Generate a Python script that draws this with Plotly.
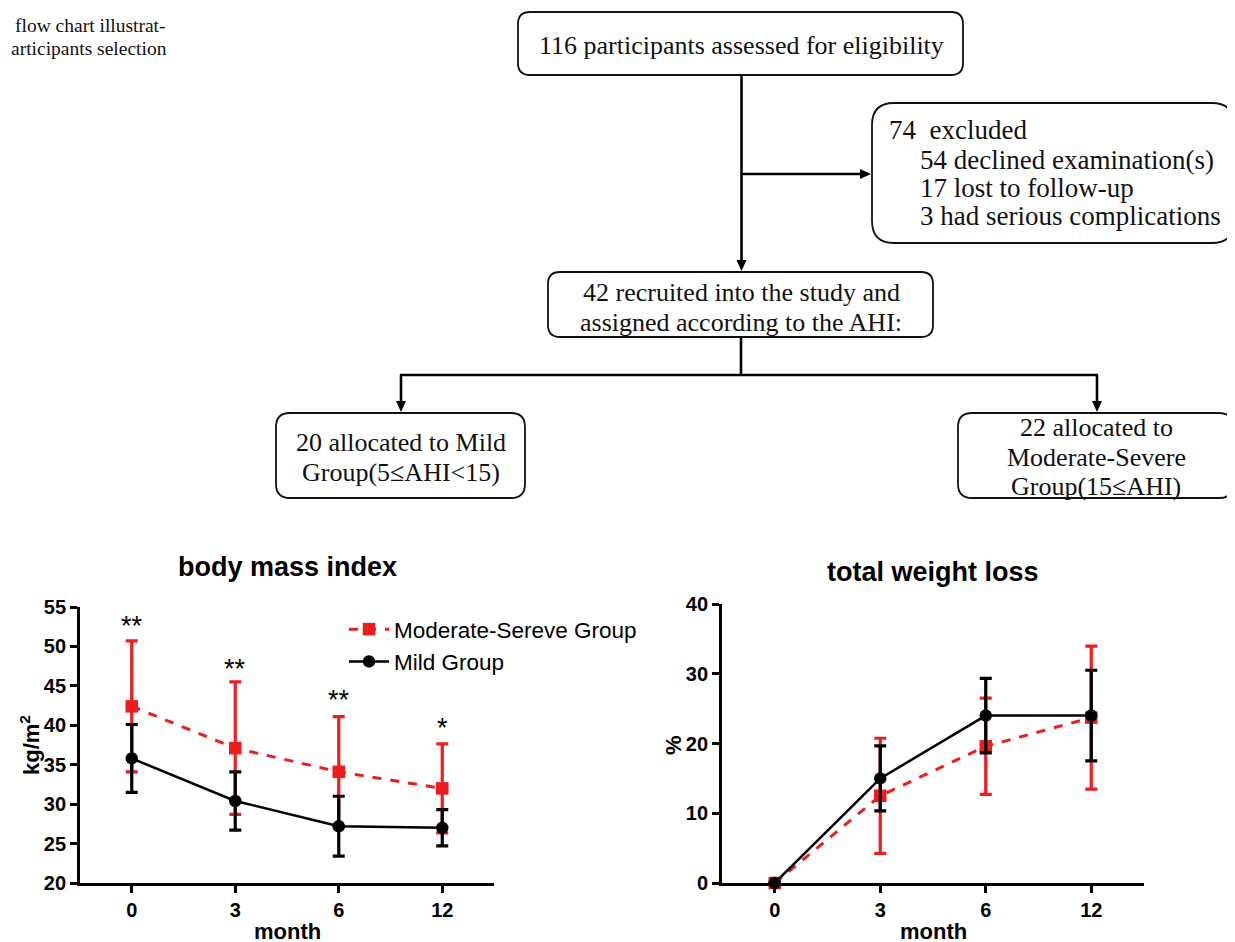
import plotly.graph_objects as go

# ---------------- data ----------------
months = ["0", "3", "6", "12"]

bmi_severe = [42.4, 37.1, 34.1, 32.0]
bmi_severe_sd = [8.3, 8.4, 7.0, 5.65]
bmi_mild = [35.8, 30.4, 27.2, 27.0]
bmi_mild_sd = [4.3, 3.7, 3.8, 2.3]

twl_severe = [0.0, 12.5, 19.6, 23.7]
twl_severe_sd = [0.0, 8.25, 6.9, 10.25]
twl_mild = [0.0, 15.0, 24.0, 24.0]
twl_mild_sd = [0.0, 4.65, 5.35, 6.5]

stars = ["**", "**", "**", "*"]
star_y = [52.6, 47.1, 43.2, 39.6]

bmi_ticks = [20, 25, 30, 35, 40, 45, 50, 55]
twl_ticks = [0, 10, 20, 30, 40]

W, H = 1235, 942
OX, OY = 8, 8          # page body margin compensation
RED = "#ee1c1c"
SANS = "Liberation Sans, Arial, sans-serif"
SERIF = "Liberation Serif, Times New Roman, serif"


def pxx(v):
    return (v - OX) / W


def pxy(v):
    return 1 - (v - OY) / H


fig = go.Figure()


def add_series(xa, ya, y, sd, name, color, symbol, dash, lw, show):
    fig.add_trace(go.Scatter(
        x=months, y=y, xaxis=xa, yaxis=ya, name=name, mode="lines+markers",
        line=dict(color=color, width=lw, dash=dash),
        marker=dict(symbol=symbol, size=12.5, color=color),
        error_y=dict(type="data", array=sd, visible=True, color=color,
                     thickness=3.2, width=6),
        cliponaxis=False, showlegend=show, legendgroup=name,
    ))


add_series("x", "y", bmi_severe, bmi_severe_sd, "Moderate-Sereve Group", RED,
           "square", "dash", 3, True)
add_series("x", "y", bmi_mild, bmi_mild_sd, "Mild Group", "black",
           "circle", "solid", 2.5, True)
add_series("x2", "y2", twl_severe, twl_severe_sd, "Moderate-Sereve Group", RED,
           "square", "dash", 3, False)
add_series("x2", "y2", twl_mild, twl_mild_sd, "Mild Group", "black",
           "circle", "solid", 2.5, False)

fig.add_trace(go.Scatter(x=[None], y=[None], xaxis="x3", yaxis="y3",
                         showlegend=False, hoverinfo="skip"))

axis_common = dict(showline=True, linewidth=2.8, linecolor="black",
                   ticks="outside", ticklen=7, tickwidth=2.8, tickcolor="black",
                   showgrid=False, zeroline=False, automargin=False,
                   tickfont=dict(family=SANS, size=20, color="black", weight="bold"))

fig.update_layout(
    width=W, height=H,
    margin=dict(l=0, r=0, t=0, b=0, pad=0, autoexpand=False),
    paper_bgcolor="white", plot_bgcolor="rgba(0,0,0,0)",
    xaxis=dict(domain=[pxx(80), pxx(494)], anchor="y", type="category",
               range=[-0.5, 3.5], **axis_common),
    yaxis=dict(domain=[pxy(883), pxy(607)], anchor="x", range=[20, 55],
               tickvals=bmi_ticks, **axis_common),
    xaxis2=dict(domain=[pxx(722), pxx(1144)], anchor="y2", type="category",
                range=[-0.5, 3.5], **axis_common),
    yaxis2=dict(domain=[pxy(883), pxy(604)], anchor="x2", range=[0, 40],
                tickvals=twl_ticks, **axis_common),
    xaxis3=dict(domain=[0, 1], anchor="y3", range=[OX, W + OX], visible=False,
                fixedrange=True, automargin=False),
    yaxis3=dict(domain=[0, 1], anchor="x3", range=[H + OY, OY], visible=False,
                fixedrange=True, automargin=False),
    legend=dict(x=pxx(344), y=pxy(608), xanchor="left", yanchor="top",
                bgcolor="rgba(0,0,0,0)", font=dict(family=SANS, size=22.5, color="black"),
                traceorder="grouped", tracegroupgap=0, itemwidth=40),
    showlegend=True,
)

ann = []


def ptxt(s, x, y, size, bold=True, angle=0):
    ann.append(dict(text=s, x=pxx(x), y=pxy(y), xref="paper", yref="paper",
                    xanchor="center", yanchor="middle", showarrow=False, textangle=angle,
                    font=dict(family=SANS, size=size, color="black",
                              weight="bold" if bold else "normal")))


ptxt("body mass index", 287, 567, 27)
ptxt("total weight loss", 933, 572, 27)
ptxt("month", 287, 931, 22)
ptxt("month", 933, 931, 22)
ptxt("kg/m<sup>2</sup>", 30, 745, 22, angle=-90)
ptxt("%", 673, 745, 22, angle=-90)

for i, (s, sy) in enumerate(zip(stars, star_y)):
    ann.append(dict(text=s, x=i, y=sy, xref="x", yref="y", showarrow=False,
                    xanchor="center", yanchor="middle",
                    font=dict(family=SANS, size=27, color="black")))

# ---------------- flowchart ----------------
shapes = []


def rbox(x0, y0, x1, y1, r):
    p = (f"M {x0+r},{y0} L {x1-r},{y0} Q {x1},{y0} {x1},{y0+r} "
         f"L {x1},{y1-r} Q {x1},{y1} {x1-r},{y1} L {x0+r},{y1} "
         f"Q {x0},{y1} {x0},{y1-r} L {x0},{y0+r} Q {x0},{y0} {x0+r},{y0} Z")
    shapes.append(dict(type="path", path=p, xref="x3", yref="y3",
                       line=dict(color="#111", width=1.8), fillcolor="rgba(0,0,0,0)"))


def seg(x0, y0, x1, y1):
    shapes.append(dict(type="line", x0=x0, y0=y0, x1=x1, y1=y1, xref="x3", yref="y3",
                       line=dict(color="black", width=2.6)))


def head_down(x, y):
    shapes.append(dict(type="path", path=f"M {x-5},{y-11} L {x+5},{y-11} L {x},{y} Z",
                       xref="x3", yref="y3", fillcolor="black", line=dict(width=0)))


def head_right(x, y):
    shapes.append(dict(type="path", path=f"M {x-11},{y-5} L {x-11},{y+5} L {x},{y} Z",
                       xref="x3", yref="y3", fillcolor="black", line=dict(width=0)))


def txt(s, x, y, anchor="center", size=26, shift=0):
    ann.append(dict(text=s, x=x, y=y, xref="x3", yref="y3", showarrow=False,
                    xanchor=anchor, yanchor="middle", xshift=shift,
                    font=dict(family=SERIF, size=size, color="#111")))


rbox(518, 12, 963, 75, 12)
rbox(872, 103, 1234, 243, 22)
rbox(548, 272, 933, 337, 12)
rbox(276, 413, 525, 498, 14)
rbox(958, 413, 1233, 498, 14)

seg(741.5, 75, 741.5, 262)
head_down(741.5, 271)
seg(741.5, 174, 862, 174)
head_right(871, 174)
seg(741, 337, 741, 375)
seg(400, 375, 1098, 375)
seg(401, 375, 401, 403)
head_down(401, 412)
seg(1097, 375, 1097, 403)
head_down(1097, 412)

txt("116 participants assessed for eligibility", 741, 45)
txt("74  excluded", 887, 130, "left", 27)
txt("54 declined examination(s)", 918, 160, "left", 27)
txt("17 lost to follow-up", 918, 188, "left", 27)
txt("3 had serious complications", 918, 216, "left", 27)
txt("42 recruited into the study and", 741, 292)
txt("assigned according to the AHI:", 741, 322)
txt("20 allocated to Mild", 401, 442)
txt("Group(5≤AHI<15)", 401, 472)
txt("22 allocated to", 1096, 427)
txt("Moderate-Severe", 1096, 457)
txt("Group(15≤AHI)", 1096, 486)

txt("flow chart illustrat-", 13, 25, "left", 19.5)
txt("articipants selection", 9, 48, "left", 19.5)

fig.update_layout(annotations=ann, shapes=shapes)
fig.write_html("out.html")
